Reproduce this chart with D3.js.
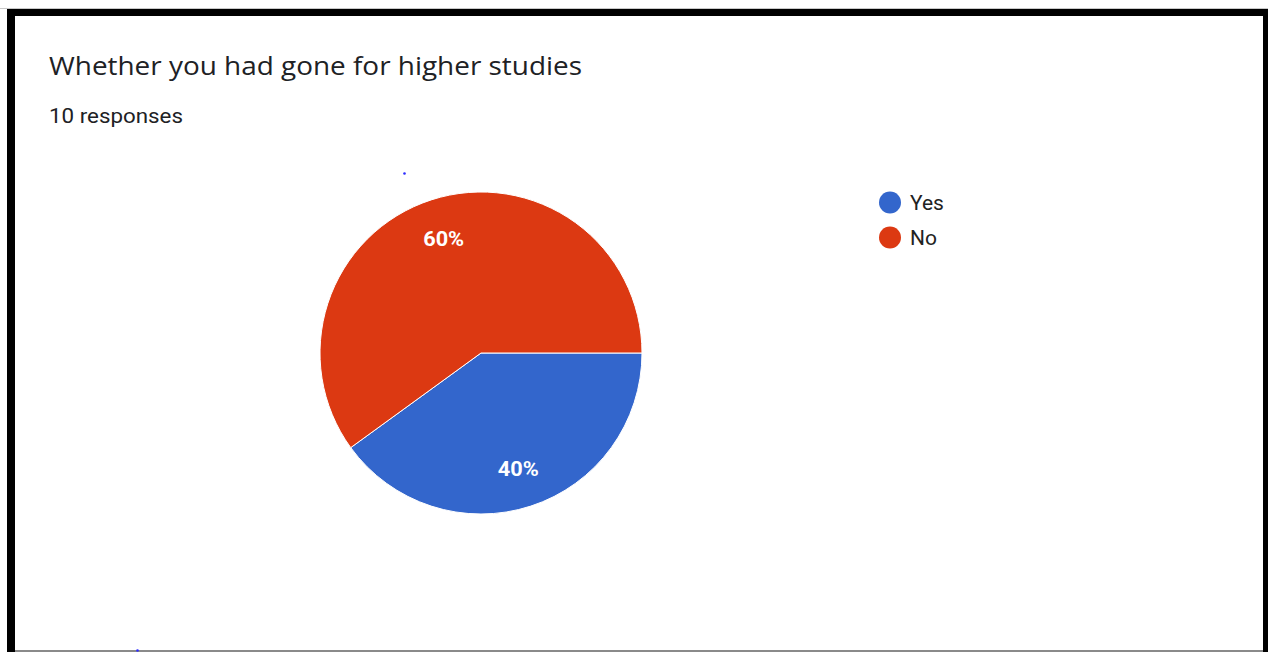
<!DOCTYPE html>
<html><head><meta charset="utf-8">
<script src="https://cdn.jsdelivr.net/npm/d3@7"></script>
<style>body{margin:0;background:#fff;}svg{display:block;}</style>
</head><body>
<svg id="c" width="1268" height="652"></svg>
<script>
const categories = ["Yes", "No"];
const values = [4, 6];
const colors = ["#3366cc", "#dc3912"];
const title = "Whether you had gone for higher studies";
const subtitle = "10 responses";

const svg = d3.select("#c");
svg.append("rect").attr("width",1268).attr("height",652).attr("fill","#fff");
// frame
svg.append("rect").attr("x",0).attr("y",8).attr("width",1268).attr("height",1).attr("fill","#c8c8c8");
svg.append("rect").attr("x",7).attr("y",9).attr("width",1261).attr("height",7).attr("fill","#000");
svg.append("rect").attr("x",7).attr("y",9).attr("width",8).attr("height",643).attr("fill","#000");
svg.append("rect").attr("x",1263).attr("y",9).attr("width",5).attr("height",643).attr("fill","#000");
svg.append("rect").attr("x",15).attr("y",650).attr("width",1248).attr("height",2).attr("fill","#8a8a8a");

svg.append("text").attr("x",49).attr("y",75).attr("font-family","Open Sans").attr("font-size",25)
  .attr("fill","#202124").attr("textLength",533).attr("lengthAdjust","spacingAndGlyphs").text(title);
svg.append("text").attr("x",49).attr("y",123).attr("font-family","Roboto").attr("font-size",21)
  .attr("fill","#202124").attr("textLength",134).attr("lengthAdjust","spacingAndGlyphs").text(subtitle);

const cx = 481, cy = 353, r = 161;
const total = d3.sum(values);
const pie = d3.pie().sort(null).startAngle(Math.PI/2).endAngle(Math.PI/2 + 2*Math.PI)(values);
const arc = d3.arc().innerRadius(0).outerRadius(r);
const labelArc = d3.arc().innerRadius(r*0.75).outerRadius(r*0.75);
const g = svg.append("g").attr("transform",`translate(${cx},${cy})`);
g.selectAll("path").data(pie).join("path").attr("d",arc)
  .attr("fill",(d,i)=>colors[i]).attr("stroke","#fff").attr("stroke-width",1);
g.selectAll("text").data(pie).join("text")
  .attr("transform",d=>{const c=labelArc.centroid(d);return `translate(${c[0]},${c[1]+1})`;})
  .attr("text-anchor","middle").attr("dy","0.36em")
  .attr("font-family","Roboto").attr("font-weight","bold").attr("font-size",20)
  .attr("fill","#fff").attr("textLength",41).attr("lengthAdjust","spacingAndGlyphs")
  .text(d=>Math.round(d.data/total*100)+"%");

const leg = svg.append("g");
const ly = d3.scaleBand().domain(categories).range([185,255]);
categories.forEach((c,i)=>{
  const y = ly(c)+ly.bandwidth()/2;
  leg.append("circle").attr("cx",890).attr("cy",y).attr("r",11).attr("fill",colors[i]);
  leg.append("text").attr("x",910).attr("y",y).attr("dy","0.36em").attr("font-family","Roboto")
    .attr("font-size",21).attr("fill","#222").text(c);
});
// stray dots
svg.append("circle").attr("cx",404.5).attr("cy",173.5).attr("r",1.3).attr("fill","#2b2bff");
svg.append("circle").attr("cx",137.5).attr("cy",650.5).attr("r",1.3).attr("fill","#2b2bff");
</script>
</body></html>
